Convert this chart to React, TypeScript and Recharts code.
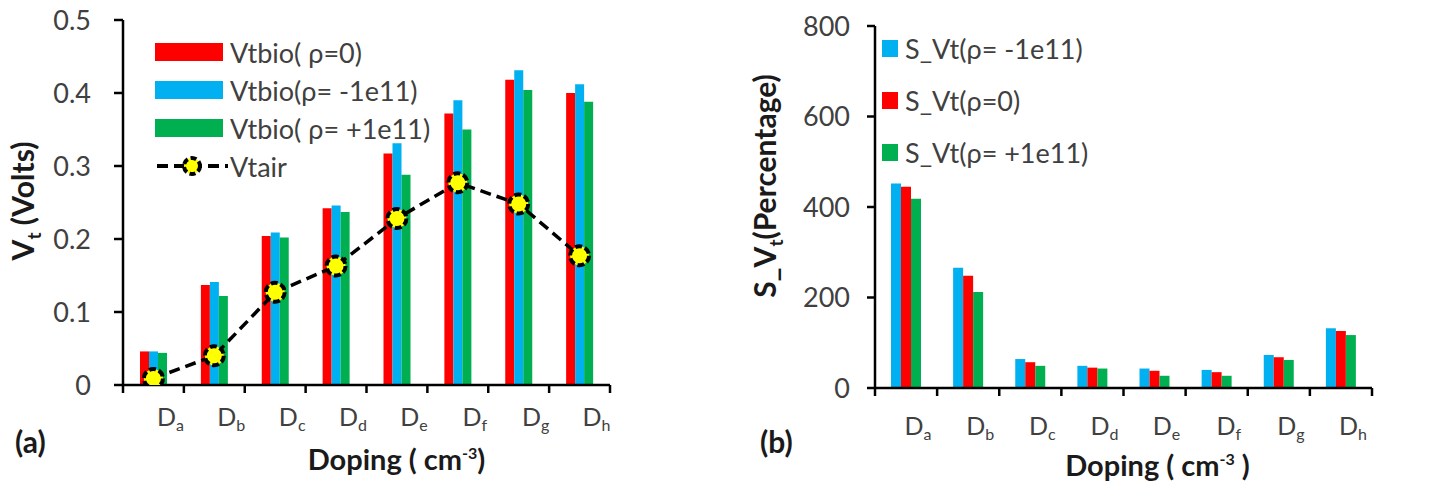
import React from 'react';
import { ComposedChart, Bar, Line, XAxis, YAxis, Legend, Label } from 'recharts';

const categories = ['a', 'b', 'c', 'd', 'e', 'f', 'g', 'h'];

// Panel (a): threshold voltage (Volts)
const vtbioZero = [0.046, 0.137, 0.204, 0.242, 0.317, 0.372, 0.418, 0.400];
const vtbioNeg = [0.046, 0.141, 0.209, 0.246, 0.331, 0.390, 0.431, 0.412];
const vtbioPos = [0.044, 0.122, 0.202, 0.237, 0.288, 0.350, 0.404, 0.388];
const vtair = [0.009, 0.040, 0.127, 0.163, 0.228, 0.277, 0.248, 0.177];
const leftTicks = [0, 0.1, 0.2, 0.3, 0.4, 0.5];

// Panel (b): sensitivity (Percentage)
const svtNeg = [452, 266, 64, 49, 43, 40, 73, 132];
const svtZero = [445, 248, 57, 45, 38, 35, 68, 126];
const svtPos = [418, 212, 49, 43, 27, 27, 62, 117];
const rightTicks = [0, 200, 400, 600, 800];

const RED = '#FF0000';
const BLUE = '#00B0F0';
const GREEN = '#00B050';
const FONT = 'Lato, "Open Sans", sans-serif';
const TICK_COLOR = '#404040';
const TITLE_COLOR = '#1a1a1a';

const leftData = categories.map((c, i) => ({
  cat: c,
  zero: vtbioZero[i],
  neg: vtbioNeg[i],
  pos: vtbioPos[i],
  air: vtair[i],
}));

const rightData = categories.map((c, i) => ({
  cat: c,
  neg: svtNeg[i],
  zero: svtZero[i],
  pos: svtPos[i],
}));

const makeDopingTick = (labelDy: number, dx: number) => (props: any) => {
  const { x, y, payload, index, visibleTicksCount } = props;
  const half = payload && typeof payload.offset === 'number' ? payload.offset : 30;
  const isLast = index === (visibleTicksCount ?? 8) - 1;
  return (
    <g>
      <line x1={x - half} x2={x - half} y1={y} y2={y + 8} stroke="#000" strokeWidth={2.5} />
      {isLast && <line x1={x + half} x2={x + half} y1={y} y2={y + 8} stroke="#000" strokeWidth={2.5} />}
      <text x={x + dx} y={y + labelDy} textAnchor="middle" fontFamily={FONT} fontSize={25} fill={TICK_COLOR}>
        D
        <tspan fontSize={16} dy={5}>
          {payload.value}
        </tspan>
      </text>
    </g>
  );
};

const VtairDot = (props: any) => {
  const { cx, cy } = props;
  if (cx == null || cy == null) return null;
  return (
    <circle cx={cx} cy={cy} r={9.5} fill="#FFFF00" stroke="#000" strokeWidth={4} strokeDasharray="7 3" />
  );
};

const LeftLegend = () => {
  const items = [
    { color: RED, label: 'Vtbio( ρ=0)' },
    { color: BLUE, label: 'Vtbio(ρ= -1e11)' },
    { color: GREEN, label: 'Vtbio( ρ= +1e11)' },
  ];
  const rowH = 38;
  return (
    <div style={{ fontFamily: FONT, fontSize: 27, color: TICK_COLOR }}>
      {items.map((it) => (
        <div key={it.label} style={{ display: 'flex', alignItems: 'center', height: rowH }}>
          <div style={{ width: 68, height: 18, background: it.color, marginRight: 7 }} />
          <span style={{ whiteSpace: 'nowrap' }}>{it.label}</span>
        </div>
      ))}
      <div style={{ display: 'flex', alignItems: 'center', height: rowH }}>
        <svg width={75} height={26}>
          <line x1={2} x2={73} y1={13} y2={13} stroke="#000" strokeWidth={4} strokeDasharray="11 6" />
          <circle cx={37} cy={13} r={8} fill="#FFFF00" stroke="#000" strokeWidth={4} strokeDasharray="6 3" />
        </svg>
        <span style={{ whiteSpace: 'nowrap' }}>Vtair</span>
      </div>
    </div>
  );
};

const RightLegend = () => {
  const items = [
    { color: BLUE, label: 'S_Vt(ρ= -1e11)' },
    { color: RED, label: 'S_Vt(ρ=0)' },
    { color: GREEN, label: 'S_Vt(ρ= +1e11)' },
  ];
  return (
    <div style={{ fontFamily: FONT, fontSize: 27, color: TICK_COLOR }}>
      {items.map((it) => (
        <div key={it.label} style={{ display: 'flex', alignItems: 'center', height: 52 }}>
          <div style={{ width: 16, height: 17, background: it.color, marginRight: 7 }} />
          <span style={{ whiteSpace: 'nowrap' }}>{it.label}</span>
        </div>
      ))}
    </div>
  );
};

const axisLine = { stroke: '#000', strokeWidth: 2.5 };
const tickStyle = { fontFamily: FONT, fontSize: 27, fill: TICK_COLOR };

const DopingTitle = (cx: number, cy: number, closeSpace: boolean) => (
  <text x={cx} y={cy} textAnchor="middle" fontFamily={FONT} fontSize={29} fontWeight="bold" fill={TITLE_COLOR}>
    Doping ( cm
    <tspan fontSize={16} dy={-11}>-3</tspan>
    <tspan dy={11}>{closeSpace ? ' )' : ')'}</tspan>
  </text>
);

export default function App() {
  return (
    <div style={{ position: 'absolute', left: 0, top: 0, width: 1434, height: 485, background: '#fff', overflow: 'hidden' }}>
      {/* Panel (a) */}
      <div style={{ position: 'absolute', left: 0, top: 0 }}>
        <ComposedChart
          width={720}
          height={485}
          data={leftData}
          margin={{ top: 20, right: 110, bottom: 70, left: 63 }}
          barGap={0}
        >
          <XAxis
            dataKey="cat"
            type="category"
            axisLine={axisLine}
            tickLine={false}
            tickSize={0}
            tickMargin={0}
            height={30}
            interval={0}
            tick={makeDopingTick(41, 17)}
          >
            <Label
              content={(p: any) => {
                const vb = p.viewBox || { x: 123, y: 385, width: 487, height: 30 };
                return DopingTitle(vb.x + vb.width / 2 + 30, 470, false);
              }}
            />
          </XAxis>
          <XAxis xAxisId="top" dataKey="cat" orientation="top" height={0} tick={false} tickLine={false} axisLine={axisLine} />
          <YAxis
            type="number"
            domain={[0, 0.5]}
            ticks={leftTicks}
            width={60}
            axisLine={axisLine}
            tickLine={{ stroke: '#000', strokeWidth: 2.5 }}
            tickSize={9}
            tickMargin={23}
            tick={tickStyle}
            allowDataOverflow
          >
            <Label
              content={() => {
                const cx = 34;
                const cy = 201;
                return (
                  <text
                    x={cx}
                    y={cy}
                    transform={`rotate(-90, ${cx}, ${cy})`}
                    textAnchor="middle"
                    fontFamily={FONT}
                    fontSize={30}
                    fontWeight="bold"
                    fill={TITLE_COLOR}
                  >
                    V<tspan fontSize={19} dy={7}>t</tspan>
                    <tspan dy={-7}> (Volts)</tspan>
                  </text>
                );
              }}
            />
          </YAxis>
          <YAxis yAxisId="right" orientation="right" width={0} domain={[0, 0.5]} tick={false} tickLine={false} axisLine={axisLine} />
          <Legend
            layout="vertical"
            align="center"
            verticalAlign="middle"
            content={() => <LeftLegend />}
            wrapperStyle={{ position: 'absolute', left: 155, top: 33, width: 'auto', height: 'auto' }}
          />
          <Bar dataKey="zero" fill={RED} barSize={9} isAnimationActive={false} />
          <Bar dataKey="neg" fill={BLUE} barSize={9} isAnimationActive={false} />
          <Bar dataKey="pos" fill={GREEN} barSize={9} isAnimationActive={false} />
          <Line
            dataKey="air"
            stroke="#000"
            strokeWidth={3.5}
            strokeDasharray="11 6"
            dot={<VtairDot />}
            activeDot={false}
            isAnimationActive={false}
          />
        </ComposedChart>
      </div>

      {/* Panel (b) */}
      <div style={{ position: 'absolute', left: 714, top: 0 }}>
        <ComposedChart
          width={720}
          height={485}
          data={rightData}
          margin={{ top: 26, right: 62, bottom: 67, left: 101 }}
          barGap={0}
        >
          <XAxis
            dataKey="cat"
            type="category"
            axisLine={axisLine}
            tickLine={false}
            tickSize={0}
            tickMargin={0}
            height={30}
            interval={0}
            tick={makeDopingTick(47, 12)}
          >
            <Label
              content={(p: any) => {
                const vb = p.viewBox || { x: 161, y: 388, width: 497, height: 30 };
                return DopingTitle(vb.x + vb.width / 2 + 34, 476, true);
              }}
            />
          </XAxis>
          <XAxis xAxisId="top" dataKey="cat" orientation="top" height={0} tick={false} tickLine={false} axisLine={axisLine} />
          <YAxis
            type="number"
            domain={[0, 800]}
            ticks={rightTicks}
            width={60}
            axisLine={axisLine}
            tickLine={{ stroke: '#000', strokeWidth: 2.5 }}
            tickSize={8}
            tickMargin={17}
            tick={tickStyle}
            allowDataOverflow
          >
            <Label
              content={() => {
                const cx = 62;
                const cy = 186;
                return (
                  <text
                    x={cx}
                    y={cy}
                    transform={`rotate(-90, ${cx}, ${cy})`}
                    textAnchor="middle"
                    fontFamily={FONT}
                    fontSize={30}
                    fontWeight="bold"
                    fill={TITLE_COLOR}
                  >
                    S_V<tspan fontSize={19} dy={7}>t</tspan>
                    <tspan dy={-7}>(Percentage)</tspan>
                  </text>
                );
              }}
            />
          </YAxis>
          <YAxis yAxisId="right" orientation="right" width={0} domain={[0, 800]} tick={false} tickLine={false} axisLine={axisLine} />
          <Legend
            layout="vertical"
            align="center"
            verticalAlign="middle"
            content={() => <RightLegend />}
            wrapperStyle={{ position: 'absolute', left: 168, top: 22, width: 'auto', height: 'auto' }}
          />
          <Bar dataKey="neg" fill={BLUE} barSize={10} isAnimationActive={false} />
          <Bar dataKey="zero" fill={RED} barSize={10} isAnimationActive={false} />
          <Bar dataKey="pos" fill={GREEN} barSize={10} isAnimationActive={false} />
        </ComposedChart>
      </div>

      <div style={{ position: 'absolute', left: 15, top: 423, fontFamily: FONT, fontSize: 30, fontWeight: 'bold', color: TITLE_COLOR }}>(a)</div>
      <div style={{ position: 'absolute', left: 760, top: 423, fontFamily: FONT, fontSize: 30, fontWeight: 'bold', color: TITLE_COLOR }}>(b)</div>
    </div>
  );
}
